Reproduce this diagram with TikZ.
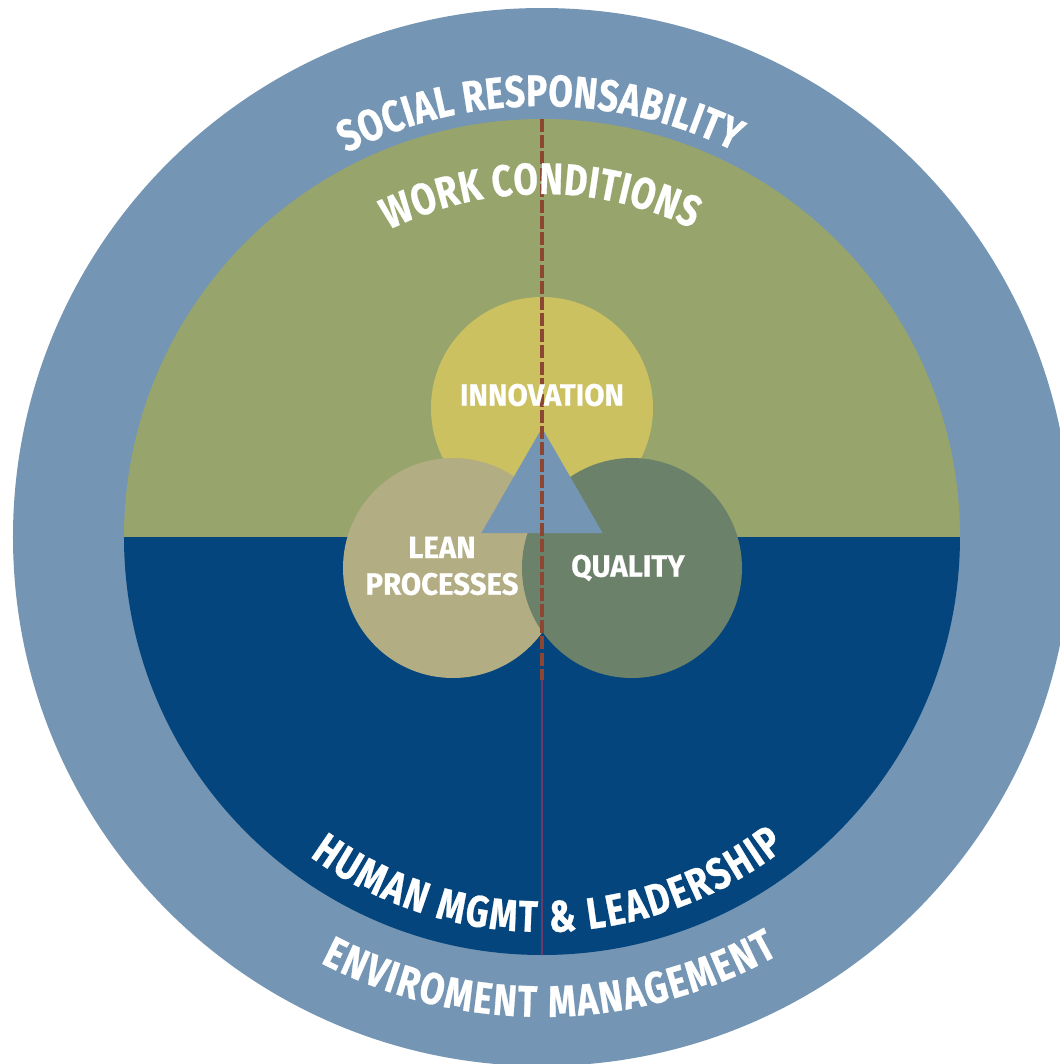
\documentclass[tikz,border=0pt]{standalone}
\usepackage{fontspec}
\usepackage{tikz}
\usetikzlibrary{positioning,shapes.geometric,decorations.text}
\setmainfont{Fira Sans}
\newfontfamily\bandfont[FakeStretch=0.8,FakeBold=0.6]{Fira Sans}
\newfontfamily\bubblefont[FakeStretch=0.95,FakeBold=0.4]{Fira Sans}
\newcommand{\bandtext}{\bandfont\bfseries\fontsize{12.6}{12.6}\selectfont}

\definecolor{ringblue}{HTML}{7495B3}
\definecolor{workgreen}{HTML}{97A56C}
\definecolor{mgmtblue}{HTML}{03457C}
\definecolor{innovcol}{HTML}{CCC160}
\definecolor{leancol}{HTML}{B3AD83}
\definecolor{qualcol}{HTML}{6C816A}
\definecolor{dashbrown}{HTML}{8C4632}
\definecolor{dashplum}{HTML}{6B3A6A}

\begin{document}
\begin{tikzpicture}[node distance=1.6cm]
    % Define styles
    \tikzstyle{bubble} = [circle, inner sep=0pt, minimum size=2.2cm]
    \tikzstyle{caption} = [text=white, font=\bubblefont\bfseries\fontsize{8.8}{10.4}\selectfont, align=center]
    \tikzstyle{band} = [decorate, decoration={text along path, text align=fit to path, text color=white}]
    \tikzstyle{divider} = [draw=dashbrown, line width=1.4pt, dash pattern=on 3.7pt off 0.9pt]
    \tikzstyle{dividerthin} = [draw=dashplum, line width=0.85pt]

    % Frame
    \useasboundingbox (-5.42,-5.27) rectangle (5.18,5.37);
    \clip (-5.42,-5.27) rectangle (5.18,5.37);
    \fill[white] (-5.42,-5.27) rectangle (5.18,5.37);

    % Rings
    \fill[ringblue] (0,0) circle (5.29);
    \fill[workgreen] (4.18,0) arc (0:180:4.18) -- cycle;
    \fill[mgmtblue] (-4.18,0) arc (180:360:4.18) -- cycle;

    % Components
    \node[bubble, fill=innovcol, minimum size=2.22cm] (innov) at (0,1.29) {};
    \node[bubble, fill=leancol, below of=innov, xshift=-0.89cm] (lean) {};
    \node[bubble, fill=qualcol, below of=innov, xshift=0.9cm] (quality) {};
    \node[regular polygon, regular polygon sides=3, fill=ringblue, inner sep=0pt, minimum size=1.4cm] (core) at (0,0.39) {};

    % Divider
    \coordinate (top) at (0,4.18);
    \coordinate (mid) at (0,-1.43);
    \coordinate (bottom) at (0,-4.18);
    \draw[divider] (top) -- (mid);
    \draw[dividerthin] (mid) -- (bottom);

    % Labels
    \node[caption] (innovtext) at ([yshift=1.3mm]innov.center) {INNOVATION};
    \node[caption] (leantext) at ([xshift=-1.1mm, yshift=0.2mm]lean.center) {LEAN\\PROCESSES};
    \node[caption] (qualtext) at ([xshift=-0.4mm]quality.center) {QUALITY};

    % Band texts
    \path[band, decoration={text={|\bandtext|SOCIAL RESPONSABILITY}}] (117:4.31) arc (117:63.5:4.31);
    \path[band, decoration={text={|\bandtext|WORK CONDITIONS}}] (116.5:3.43) arc (116.5:64:3.43);
    \path[band, decoration={text={|\bandtext|HUMAN MGMT {\&} LEADERSHIP}}] (234:3.95) arc (234:308:3.95);
    \path[band, decoration={text={|\bandtext|ENVIROMENT MANAGEMENT}}] (242.5:4.8) arc (242.5:299.5:4.8);
\end{tikzpicture}
\end{document}
